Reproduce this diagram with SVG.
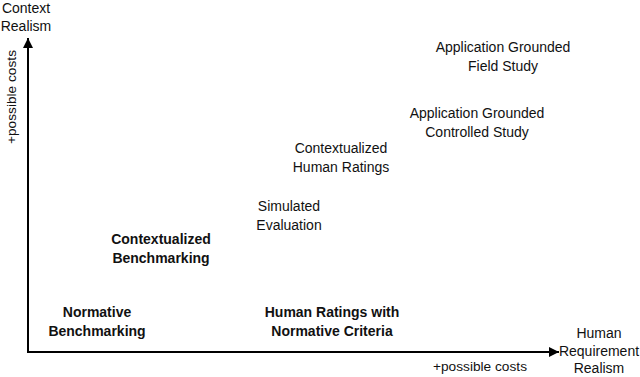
<svg xmlns="http://www.w3.org/2000/svg" width="640" height="377" viewBox="0 0 640 377">
<defs>
<marker id="ah" viewBox="0 0 10 10" refX="10" refY="5" markerWidth="5" markerHeight="5" orient="auto" markerUnits="strokeWidth"><path d="M0,0 L10,5 L0,10 Z" fill="#000"/></marker>
<style>
text{font-family:"Liberation Sans",Arial,sans-serif;font-size:14px;fill:#111;text-anchor:middle}
.b{font-weight:bold}
.c{font-size:13.7px}
.ax{stroke:#000;stroke-width:2;fill:none}
</style>
</defs>
<rect width="640" height="377" fill="#fff"/>
<g id="connectors">
<path class="ax" d="M28,352 V38" marker-end="url(#ah)"/>
<path class="ax" d="M27,352 H559" marker-end="url(#ah)"/>
</g>
<g id="y-label"><text x="26" y="13">Context</text><text x="26" y="31">Realism</text></g>
<g id="y-cost"><text class="c" transform="translate(16,97) rotate(-90)" x="0" y="0">+possible costs</text></g>
<g id="x-label"><text x="599" y="338">Human</text><text x="599" y="356">Requirement</text><text x="599" y="373">Realism</text></g>
<g id="x-cost"><text class="c" x="480" y="371">+possible costs</text></g>
<g id="n1"><text x="503" y="52">Application Grounded</text><text x="503" y="71">Field Study</text></g>
<g id="n2"><text x="477" y="118">Application Grounded</text><text x="477" y="137">Controlled Study</text></g>
<g id="n3"><text x="341" y="153">Contextualized</text><text x="341" y="172">Human Ratings</text></g>
<g id="n4"><text x="289" y="211">Simulated</text><text x="289" y="230">Evaluation</text></g>
<g id="n5"><text class="b" x="161" y="244">Contextualized</text><text class="b" x="161" y="263">Benchmarking</text></g>
<g id="n6"><text class="b" x="97" y="317">Normative</text><text class="b" x="97" y="336">Benchmarking</text></g>
<g id="n7"><text class="b" x="332" y="317">Human Ratings with</text><text class="b" x="332" y="336">Normative Criteria</text></g>
</svg>
